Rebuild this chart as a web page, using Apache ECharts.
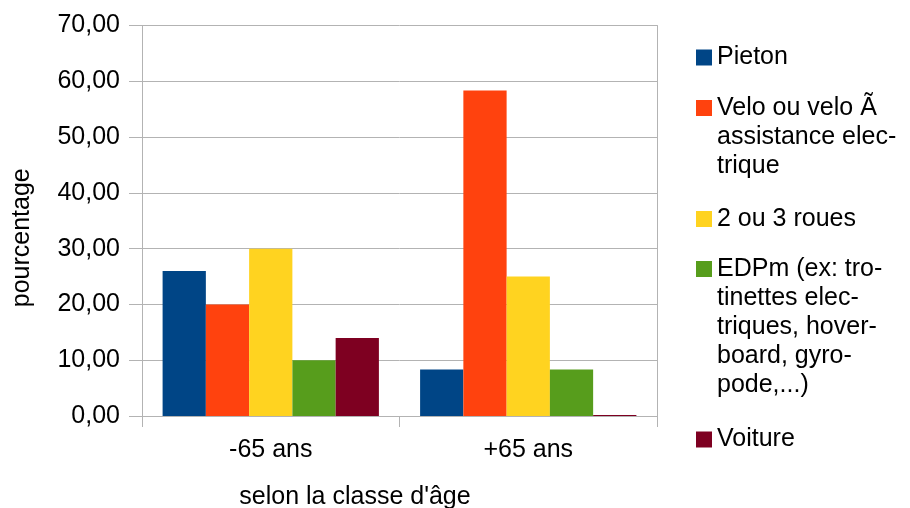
<!DOCTYPE html>
<html>
<head>
<meta charset="utf-8">
<script src="https://cdn.jsdelivr.net/npm/echarts@6/dist/echarts.min.js"></script>
<style>
  html, body { margin: 0; padding: 0; background: #fff; }
  #chart { width: 910px; height: 508px; }
</style>
</head>
<body>
<div id="chart"></div>
<script>
// Age groups on the x axis
const categories = ['-65 ans', '+65 ans'];

// Transport modes (series names) and the wrapped text shown in the legend
const seriesNames = [
  'Pieton',
  'Velo ou velo Ã assistance electrique',
  '2 ou 3 roues',
  'EDPm (ex: trotinettes electriques, hoverboard, gyropode,...)',
  'Voiture'
];
const legendLines = [
  ['Pieton'],
  ['Velo ou velo Ã', 'assistance elec-', 'trique'],
  ['2 ou 3 roues'],
  ['EDPm (ex: tro-', 'tinettes elec-', 'triques, hover-', 'board, gyro-', 'pode,...)'],
  ['Voiture']
];

// Percentages per mode, one value per age group
const pietonValues  = [26.0, 8.33];
const veloValues    = [20.0, 58.33];
const rouesValues   = [30.0, 25.0];
const edpmValues    = [10.0, 8.33];
const voitureValues = [14.0, 0];

// Y axis range
const yMin = 0, yMax = 70, yStep = 10;

const colors = ['#004586', '#ff420e', '#ffd320', '#579d1c', '#7e0021'];
const valueSets = [pietonValues, veloValues, rouesValues, edpmValues, voitureValues];

const FONT = 'Liberation Sans, Arial, sans-serif';
const FS = 25;
const LH = 29;
const gridColor = '#b3b3b3';

// Vertical centre of the first legend line for each entry
const legendCenters = [57.5, 108, 219, 269, 439.5];

// Each legend entry is its own component so the marker sits beside the
// first text line: blank lines are prepended to keep that line centred.
const legends = seriesNames.map((name, i) => {
  const n = legendLines[i].length;
  return {
    data: [name],
    orient: 'vertical',
    left: 696,
    top: legendCenters[i] - (2 * n - 1) * LH / 2,
    padding: 0,
    itemWidth: 16,
    itemHeight: 16,
    itemGap: 0,
    icon: 'rect',
    selectedMode: false,
    formatter: () => '\n'.repeat(n - 1) + legendLines[i].join('\n'),
    textStyle: {
      fontFamily: FONT,
      fontSize: FS,
      lineHeight: LH,
      color: '#000'
    }
  };
});

const chart = echarts.init(document.getElementById('chart'), null, { renderer: 'canvas' });

chart.setOption({
  animation: false,
  backgroundColor: '#fff',
  color: colors,
  textStyle: { fontFamily: FONT },
  legend: legends,
  grid: { left: 142, top: 25.5, right: 253, bottom: 92, containLabel: false, outerBoundsMode: 'none' },
  xAxis: {
    type: 'category',
    data: categories,
    boundaryGap: true,
    axisLine: { show: true, lineStyle: { color: gridColor, width: 1 } },
    axisTick: { show: true, length: 11, lineStyle: { color: gridColor } },
    axisLabel: { fontFamily: FONT, fontSize: FS, color: '#000', margin: 22 },
    splitLine: { show: false },
    name: "selon la classe d'âge",
    nameLocation: 'middle',
    nameGap: 69,
    nameTextStyle: { fontFamily: FONT, fontSize: FS, color: '#000', padding: [0, 89, 0, 0] }
  },
  yAxis: [
    {
      type: 'value',
      min: yMin,
      max: yMax,
      interval: yStep,
      axisLine: { show: true, lineStyle: { color: gridColor, width: 1 } },
      axisTick: { show: true, length: 13, lineStyle: { color: gridColor } },
      axisLabel: {
        fontFamily: FONT, fontSize: FS, color: '#000', margin: 22,
        formatter: v => v.toFixed(2).replace('.', ',')
      },
      splitLine: { show: true, lineStyle: { color: gridColor, width: 1 } },
      name: 'pourcentage',
      nameLocation: 'middle',
      nameGap: 107,
      nameTextStyle: { fontFamily: FONT, fontSize: FS, color: '#000', padding: [0, 34, 0, 0] }
    },
    {
      type: 'value',
      position: 'right',
      min: yMin,
      max: yMax,
      interval: yStep,
      axisLine: { show: true, lineStyle: { color: gridColor, width: 1 } },
      axisTick: { show: false },
      axisLabel: { show: false },
      splitLine: { show: false }
    }
  ],
  series: seriesNames.map((name, i) => ({
    name,
    type: 'bar',
    data: valueSets[i],
    barGap: '0%',
    barCategoryGap: '16%',
    barMinHeight: i === 4 ? 1 : 0,
    itemStyle: { color: colors[i] }
  }))
});
</script>
</body>
</html>
